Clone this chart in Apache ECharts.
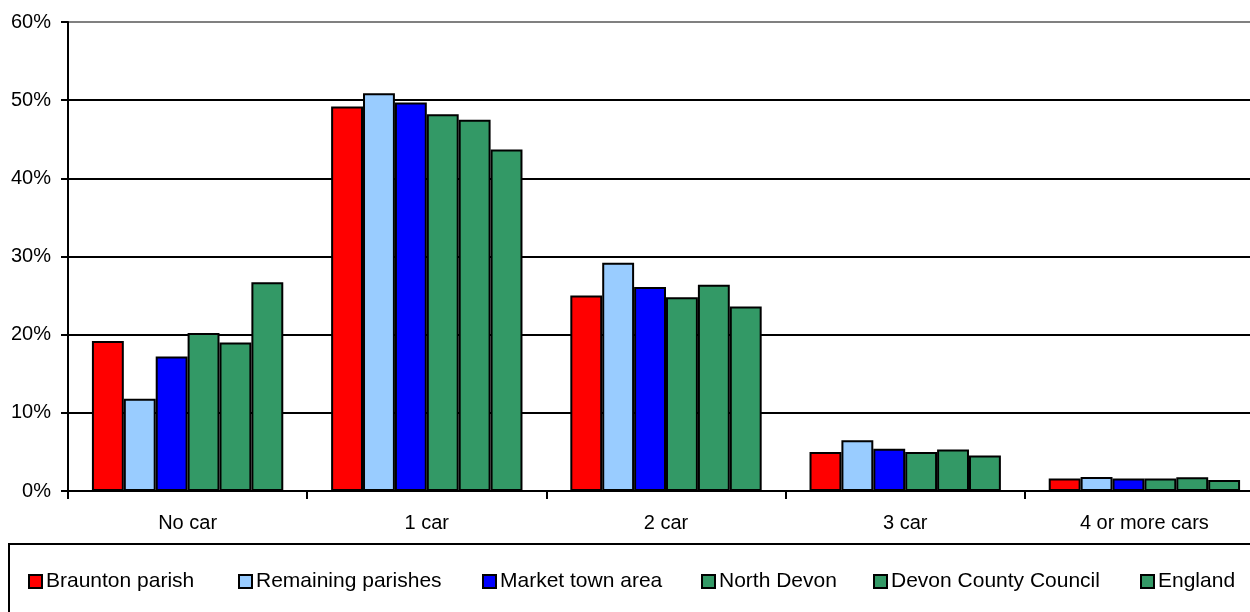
<!DOCTYPE html>
<html>
<head>
<meta charset="utf-8">
<script src="https://cdn.jsdelivr.net/npm/echarts@6/dist/echarts.min.js"></script>
<style>html,body{margin:0;padding:0;background:#fff}#c{width:1250px;height:612px}</style>
</head>
<body>
<div id="c"></div>
<script>
const categories = ['No car', '1 car', '2 car', '3 car', '4 or more cars'];
const seriesNames = ['Braunton parish', 'Remaining parishes', 'Market town area', 'North Devon', 'Devon County Council', 'England'];
const braunton = [19.2, 49.2, 25.0, 5.0, 1.6];
const remaining = [11.8, 50.9, 29.2, 6.5, 1.8];
const marketTown = [17.2, 49.7, 26.1, 5.4, 1.6];
const northDevon = [20.2, 48.2, 24.8, 5.0, 1.6];
const devonCC = [19.0, 47.5, 26.4, 5.3, 1.75];
const england = [26.7, 43.7, 23.6, 4.55, 1.4];
const yTicks = [0, 10, 20, 30, 40, 50, 60];

const values = [braunton, remaining, marketTown, northDevon, devonCC, england];
const colors = ['#FF0000', '#99CCFF', '#0000FF', '#339966', '#339966', '#339966'];
const legendLeft = [28, 238, 482, 701, 873, 1140];
const FONT = '"Liberation Sans", Arial, sans-serif';

const chart = echarts.init(document.getElementById('c'), null, {renderer: 'canvas'});
chart.setOption({
  animation: false,
  backgroundColor: '#ffffff',
  textStyle: {fontFamily: FONT, color: '#000'},
  grid: {left: 68, width: 1196, top: 22, bottom: 121, containLabel: false, outerBoundsMode: 'none'},
  xAxis: {
    type: 'category',
    data: categories,
    axisLine: {lineStyle: {color: '#000', width: 2}},
    axisTick: {show: true, length: 8, lineStyle: {color: '#000', width: 2}},
    axisLabel: {fontSize: 20, color: '#000', fontFamily: FONT, margin: 22, lineHeight: 20}
  },
  yAxis: {
    type: 'value',
    min: yTicks[0],
    max: yTicks[yTicks.length - 1],
    interval: 10,
    axisLine: {show: true, lineStyle: {color: '#000', width: 2}},
    axisTick: {show: true, length: 7, lineStyle: {color: '#000', width: 2}},
    axisLabel: {fontSize: 20, color: '#000', fontFamily: FONT, margin: 17, formatter: '{value}%'},
    splitLine: {show: true, lineStyle: {color: ['#000', '#000', '#000', '#000', '#000', '#000', '#808080'], width: 2}}
  },
  legend: seriesNames.map((n, i) => ({
    data: [n],
    left: legendLeft[i],
    top: 571,
    padding: 0,
    icon: 'rect',
    itemWidth: 13,
    itemHeight: 13,
    itemGap: 5,
    textStyle: {fontSize: 21, color: '#000', fontFamily: FONT, padding: [0, 0, 0, -1]},
    itemStyle: {borderColor: '#000', borderWidth: 2}
  })),
  graphic: [{
    type: 'rect',
    shape: {x: 9, y: 544, width: 1300, height: 120},
    style: {fill: 'none', stroke: '#000', lineWidth: 2},
    silent: true
  }],
  series: seriesNames.map((n, i) => ({
    name: n,
    type: 'bar',
    data: values[i],
    barGap: '0%',
    barCategoryGap: '20%',
    itemStyle: {color: colors[i], borderColor: '#000', borderWidth: 2}
  }))
});
</script>
</body>
</html>
